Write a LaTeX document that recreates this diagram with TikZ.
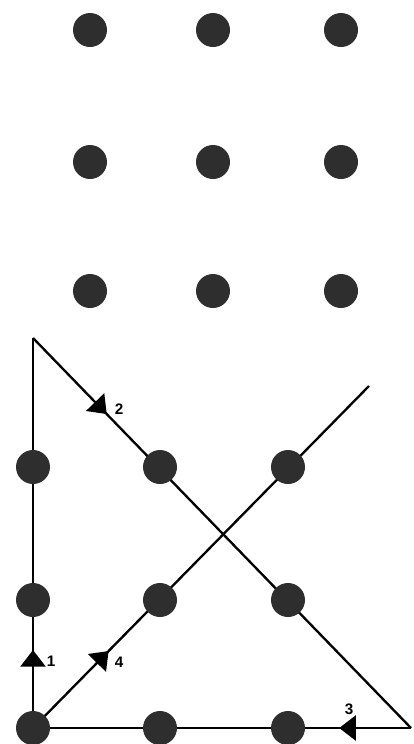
\documentclass[tikz,border=0pt]{standalone}
\usepackage{fontspec}
\setsansfont{Liberation Sans}
\usepackage{tikz}
\usetikzlibrary{arrows.meta, decorations.markings}
\pgfdeclarelayer{background}
\pgfsetlayers{background,main}

\begin{document}
\begin{tikzpicture}[
    x=0.03cm, y=-0.03cm,
    % puntos del acertijo
    dot/.style={circle, fill=black!82, draw=none, inner sep=0pt, minimum size=1.02cm},
    % trazo de la solucion
    stroke/.style={line width=2pt, black},
    % punta de flecha a mitad de linea
    midarrow/.style={
        postaction={decorate},
        decoration={markings,
            mark=at position #1 with {\arrow{Triangle[length=0.5cm, width=0.75cm]}}}
    },
    % numero de cada trazo
    num/.style={font=\sffamily\bfseries\fontsize{13}{13}\selectfont, inner sep=0pt}
]
    \useasboundingbox (0,0) rectangle (413,744);

    % --- ACERTIJO: nueve puntos ---
    \node[dot] (a11) at (90, 30)  {};
    \node[dot] (a12) at (213, 30) {};
    \node[dot] (a13) at (341, 30) {};
    \node[dot] (a21) at (90, 162)  {};
    \node[dot] (a22) at (213, 162) {};
    \node[dot] (a23) at (341, 162) {};
    \node[dot] (a31) at (90, 291)  {};
    \node[dot] (a32) at (213, 291) {};
    \node[dot] (a33) at (341, 291) {};

    % --- SOLUCION: nueve puntos ---
    \node[dot] (b11) at (33, 467)  {};
    \node[dot] (b12) at (160, 467) {};
    \node[dot] (b13) at (288, 467) {};
    \node[dot] (b21) at (33, 600)  {};
    \node[dot] (b22) at (160, 600) {};
    \node[dot] (b23) at (288, 600) {};
    \node[dot] (b31) at (33, 728)  {};
    \node[dot] (b32) at (160, 728) {};
    \node[dot] (b33) at (288, 728) {};

    % esquinas fuera de la cuadricula
    \coordinate (top)   at (33, 338);
    \coordinate (right) at (411, 728);
    \coordinate (tail)  at (369, 386);

    % --- CUATRO TRAZOS ---
    \begin{pgfonlayer}{background}
        \draw[stroke, midarrow=0.2]   (b31.center) -- (top);
        \draw[stroke, midarrow=0.195] (top) -- (right);
        \draw[stroke, midarrow=0.19]  (right) -- (b31.center);
        \draw[stroke, midarrow=0.225] (b31.center) -- (tail);
    \end{pgfonlayer}

    % numeros de los trazos
    \node[num] (n1) at (51, 661)  {1};
    \node[num] (n2) at (119, 409) {2};
    \node[num] (n3) at (349, 709) {3};
    \node[num] (n4) at (119, 662) {4};

\end{tikzpicture}
\end{document}
